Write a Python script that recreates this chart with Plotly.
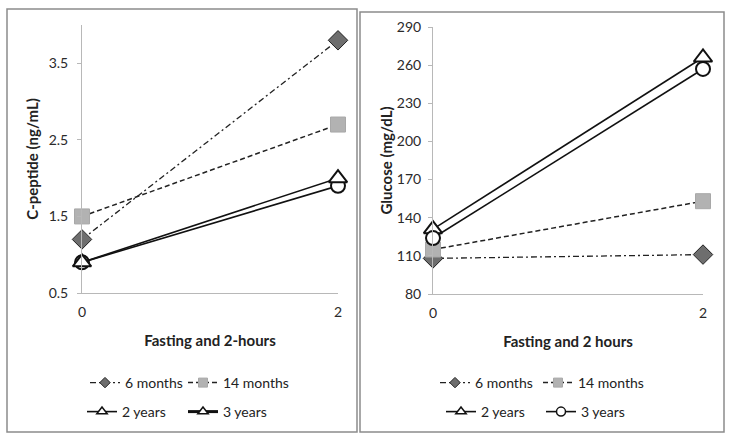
import plotly.graph_objects as go

# ---- data ----
times = [0, 2]
series_names = ["6 months", "14 months", "2 years", "3 years"]
cpep_6m = [1.2, 3.8]
cpep_14m = [1.5, 2.7]
cpep_2y = [0.9, 2.0]
cpep_3y = [0.9, 1.9]
glu_6m = [108, 111]
glu_14m = [115, 153]
glu_2y = [131, 266]
glu_3y = [124, 257]
cpep_ticks = [0.5, 1.5, 2.5, 3.5]
glu_ticks = [80, 110, 140, 170, 200, 230, 260, 290]
x_ticks = [0, 2]

FONT = "Lato"
W, H = 729, 440


def px_x(p):
    return p / W


def px_y(p):
    return (H - p) / H


line_styles = {
    "6 months": dict(color="#222", width=1.3, dash="6px,3px,2px,3px"),
    "14 months": dict(color="#222", width=1.5, dash="5px,3px"),
    "2 years": dict(color="#111", width=1.6),
    "3 years": dict(color="#111", width=1.6),
}
marker_styles = {
    "6 months": dict(symbol="diamond", color="#6e6e6e", line=dict(color="#222", width=1)),
    "14 months": dict(symbol="square", color="#b2b2b2", line=dict(color="#a8a8a8", width=1)),
    "2 years": dict(symbol="triangle-up", color="white", line=dict(color="#111", width=2)),
    "3 years": dict(symbol="circle", color="white", line=dict(color="#111", width=2)),
}
plot_sizes = {"6 months": 15, "14 months": 15, "2 years": 16, "3 years": 14}

fig = go.Figure()

left = [cpep_6m, cpep_14m, cpep_2y, cpep_3y]
right = [glu_6m, glu_14m, glu_2y, glu_3y]

# left panel (3 years drawn before 2 years so the triangle sits on top at x=0)
for i in [0, 1, 3, 2]:
    name = series_names[i]
    fig.add_trace(go.Scatter(x=times, y=left[i], name=name, mode="lines+markers",
                             line=line_styles[name],
                             marker=dict(size=plot_sizes[name], **marker_styles[name]),
                             cliponaxis=False, xaxis="x", yaxis="y", showlegend=False))
for i in [0, 1, 2, 3]:
    name = series_names[i]
    fig.add_trace(go.Scatter(x=times, y=right[i], name=name, mode="lines+markers",
                             line=line_styles[name],
                             marker=dict(size=plot_sizes[name], **marker_styles[name]),
                             cliponaxis=False, xaxis="x2", yaxis="y2", showlegend=False))

# legend entries (small markers as in the original legends)
leg_sizes = {"6 months": 8, "14 months": 9, "2 years": 9, "3 years": 9}


def legend_entry(name, legend, lw, left_panel=False):
    line = dict(line_styles[name])
    mk = dict(marker_styles[name])
    mk = dict(mk, line=dict(mk["line"], width=1.5 if name in ("2 years", "3 years") else 1))
    if left_panel and name == "3 years":
        # the left legend shows "3 years" as a thick line with a triangle
        line = dict(color="#111", width=3)
        mk = dict(marker_styles["2 years"], line=dict(color="#111", width=1.5))
    fig.add_trace(go.Scatter(x=[None], y=[None], name=name, mode="lines+markers",
                             line=line, marker=dict(size=leg_sizes[name], **mk),
                             xaxis="x", yaxis="y", legend=legend, legendwidth=lw))


legend_entry("6 months", "legend", 53)
legend_entry("14 months", "legend", 0)
legend_entry("2 years", "legend2", 56)
legend_entry("3 years", "legend2", 0, left_panel=True)
legend_entry("6 months", "legend3", 58)
legend_entry("14 months", "legend3", 0)
legend_entry("2 years", "legend4", 55)
legend_entry("3 years", "legend4", 0)

axis_common = dict(showgrid=False, zeroline=False, showline=True, linecolor="#b8b8b8",
                   linewidth=1, automargin=False,
                   tickfont=dict(family=FONT, size=14, color="#2a2a2a"))
title_font = dict(family=FONT, size=15, color="#222")

fig.update_layout(
    width=W, height=H,
    margin=dict(l=0, r=0, t=0, b=0, autoexpand=False),
    paper_bgcolor="white", plot_bgcolor="white",
    font=dict(family=FONT, size=13, color="#222"),
    xaxis=dict(domain=[px_x(82), px_x(338)], range=[0, 2], tickvals=x_ticks,
               anchor="y", ticks="", ticklabelstandoff=6,
               title=dict(text="<b>Fasting and 2-hours</b>", standoff=16, font=title_font),
               **axis_common),
    yaxis=dict(domain=[px_y(293), px_y(25)], range=[0.5, 4.0], tickvals=cpep_ticks,
               tickformat=".1f", anchor="x", ticks="outside", ticklen=4,
               tickcolor="#b8b8b8", ticklabelstandoff=6,
               title=dict(text="<b>C-peptide (ng/mL)</b>", standoff=6, font=title_font),
               **axis_common),
    xaxis2=dict(domain=[px_x(433), px_x(703)], range=[0, 2], tickvals=x_ticks,
                anchor="y2", ticks="", ticklabelstandoff=6,
                title=dict(text="<b>Fasting and 2 hours</b>", standoff=16, font=title_font),
                **axis_common),
    yaxis2=dict(domain=[px_y(294), px_y(27)], range=[80, 290], tickvals=glu_ticks,
                anchor="x2", ticks="outside", ticklen=4, tickcolor="#b8b8b8",
                ticklabelstandoff=4,
                title=dict(text="<b>Glucose (mg/dL)</b>", standoff=0, font=title_font),
                **axis_common),
    showlegend=True,
)

leg_common = dict(orientation="h", xanchor="left", yanchor="middle",
                  bgcolor="rgba(0,0,0,0)", borderwidth=0,
                  font=dict(family=FONT, size=14, color="#222"), itemwidth=30)
fig.update_layout(
    legend=dict(x=px_x(125 - 40), y=px_y(383), **leg_common),
    legend2=dict(x=px_x(122 - 40), y=px_y(412), **leg_common),
    legend3=dict(x=px_x(475 - 40), y=px_y(383), **leg_common),
    legend4=dict(x=px_x(481 - 40), y=px_y(412), **leg_common),
)

# panel frames
fig.add_shape(type="rect", xref="paper", yref="paper",
              x0=px_x(7), x1=px_x(357), y0=px_y(432), y1=px_y(9),
              line=dict(color="#8c8c8c", width=1.5), layer="below")
fig.add_shape(type="rect", xref="paper", yref="paper",
              x0=px_x(360), x1=px_x(724), y0=px_y(432), y1=px_y(12),
              line=dict(color="#8c8c8c", width=1.5), layer="below")

fig.write_html("out.html", config={"displayModeBar": False},
               post_script="document.body.style.margin='0';document.body.style.padding='0';")
